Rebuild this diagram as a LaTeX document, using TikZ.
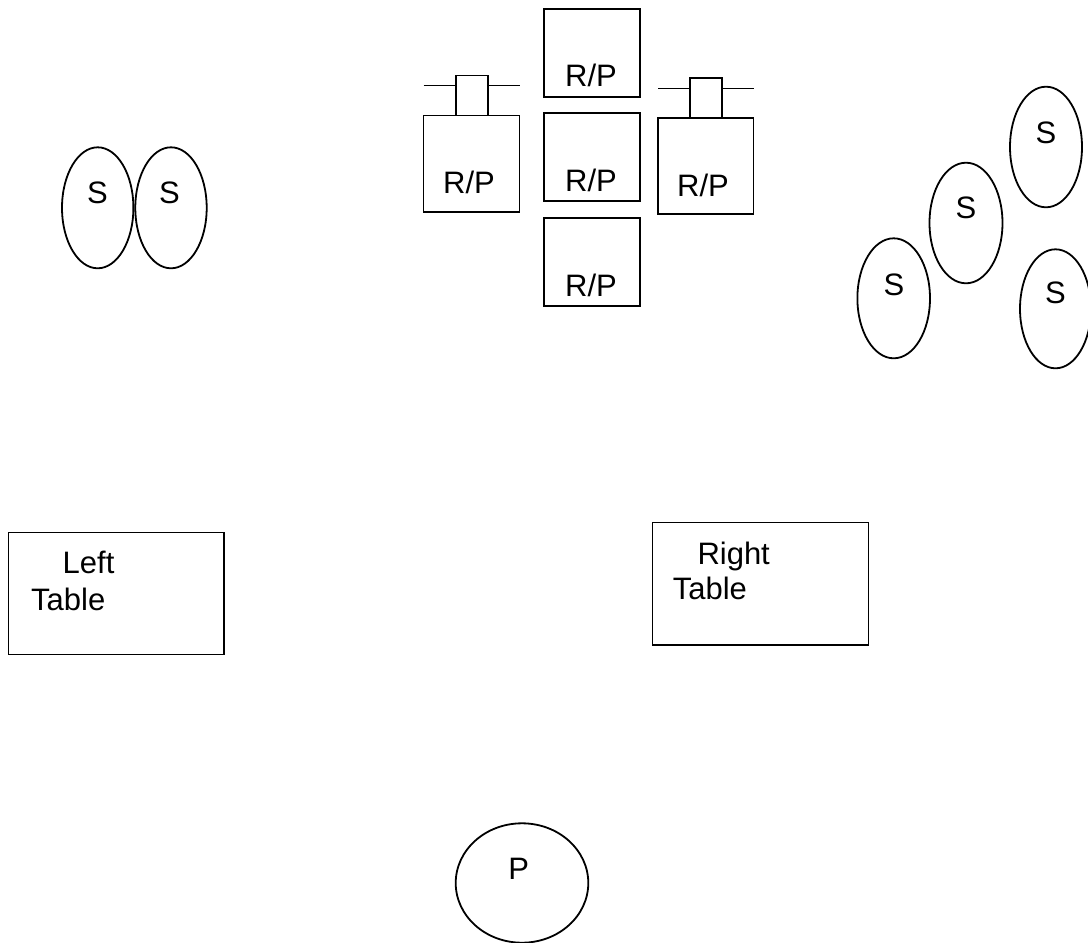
\documentclass[tikz,border=0pt]{standalone}
\usepackage{fontspec}
\setmainfont{Liberation Sans}
\tikzset{
  lbl/.style={inner sep=0pt, anchor=base, font=\fontsize{31}{36.5}\selectfont},
  lblw/.style={inner sep=0pt, anchor=base west, font=\fontsize{31}{36.5}\selectfont},
  thinbox/.style={draw=black, line width=1.3pt},
  thickbox/.style={draw=black, line width=2pt},
  oval/.style={draw=black, line width=1.8pt},
  tablebox/.style={draw=black, line width=1.8pt},
}
\begin{document}
\begin{tikzpicture}[x=1pt,y=-1pt]
\useasboundingbox (0,0) rectangle (1088,943);
% left R/P with small top box
\draw[thinbox] (423.5,115.5) rectangle (519.5,212);
\draw[thinbox] (456,75.5) rectangle (488,115.5);
\draw[thinbox] (423.5,85.7) -- (456,85.7);
\draw[thinbox] (488,85.7) -- (519.5,85.7);
\node[lbl] (rpl) at (469,193) {R/P};
% centre column
\draw[thickbox] (544,8.5) rectangle (640,97);
\draw[thickbox] (544,113) rectangle (640,201);
\draw[thickbox] (544,218) rectangle (640,305.5);
\node[lbl] (rpt) at (591,86) {R/P};
\node[lbl] (rpm) at (591,191) {R/P};
\node[lbl] (rpb) at (591,296) {R/P};
% right R/P with small top box
\draw[thinbox] (658,118) rectangle (753.5,214);
\draw[thinbox] (690,78) rectangle (722,118);
\draw[thinbox] (658,88.7) -- (690,88.7);
\draw[thinbox] (722,88.7) -- (753.5,88.7);
\node[lbl] (rpr) at (703,196) {R/P};
% left pair of ellipses
\draw[oval] (97.7,207.8) ellipse [x radius=35.7, y radius=60.5];
\draw[oval] (171,207.8) ellipse [x radius=35.7, y radius=60.5];
\node[lbl] (s1) at (97.5,203.3) {S};
\node[lbl] (s2) at (169.5,203.3) {S};
% right group of ellipses
\draw[oval] (1046,147) ellipse [x radius=36, y radius=60.3];
\draw[oval] (966,223) ellipse [x radius=36.5, y radius=60.3];
\draw[oval] (893.7,298.3) ellipse [x radius=36.3, y radius=60];
\draw[oval] (1055.5,308.8) ellipse [x radius=35.5, y radius=59.5];
\node[lbl] (s3) at (1046,143.3) {S};
\node[lbl] (s4) at (966,218.3) {S};
\node[lbl] (s5) at (894,295) {S};
\node[lbl] (s6) at (1055.5,303.3) {S};
% tables
\draw[tablebox] (8.5,532.5) rectangle (224,654.5);
\node[lblw] (lt1) at (62.5,573.3) {Left};
\node[lblw] (lt2) at (31,610) {Table};
\draw[tablebox] (652.5,522.5) rectangle (868.5,645);
\node[lblw] (rt1) at (697.3,564.3) {Right};
\node[lblw] (rt2) at (672.6,599.3) {Table};
% P
\draw[oval] (522,883) ellipse [x radius=66.3, y radius=59.7];
\node[lbl] (p) at (518.7,879.3) {P};
\end{tikzpicture}
\end{document}
